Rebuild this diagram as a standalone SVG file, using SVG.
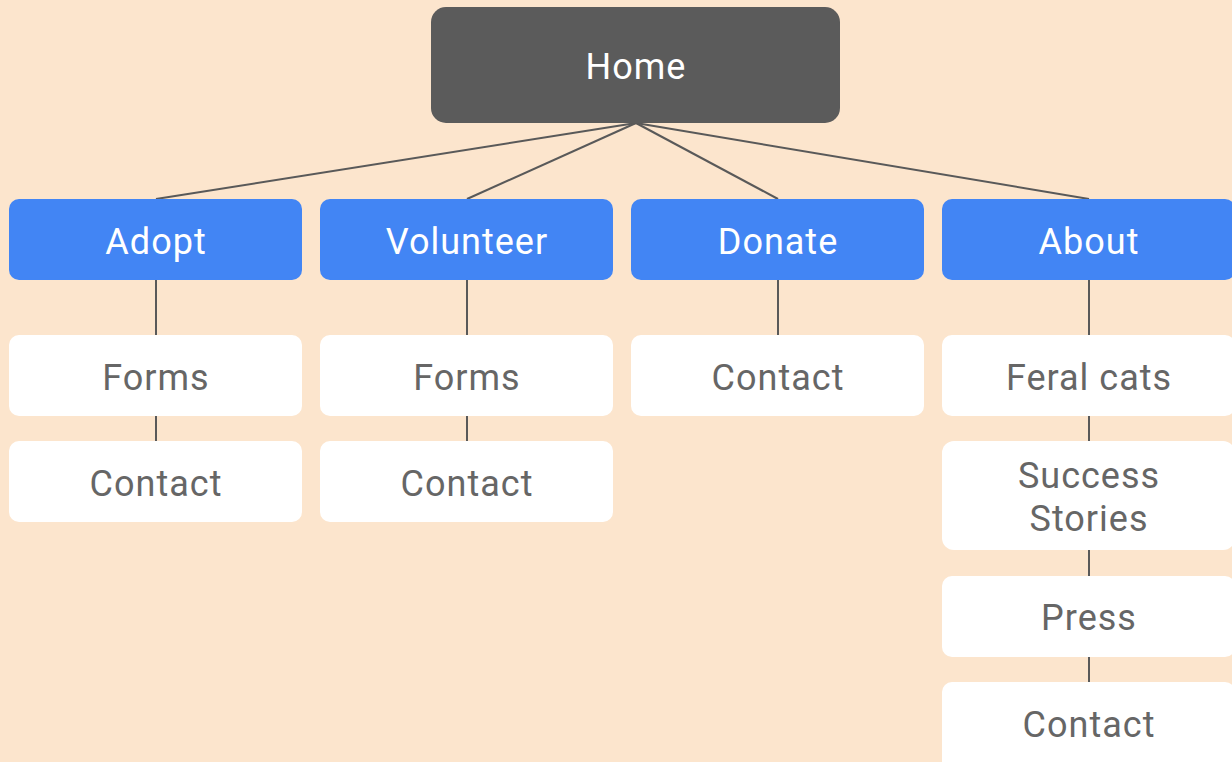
<svg xmlns="http://www.w3.org/2000/svg" width="1232" height="762" viewBox="0 0 1232 762">
<style>
.bg{fill:#fce5cd}
.home{fill:#5b5b5b}
.cat{fill:#4285f4}
.page{fill:#ffffff}
text{font-family:Roboto,"Open Sans","Liberation Sans",sans-serif;font-size:36px;text-anchor:middle;letter-spacing:1px}
.lt{fill:#ffffff}
.dt{fill:#666666}
.edge{stroke:#595959;stroke-width:2;fill:none}
</style>
<rect class="bg" x="0" y="0" width="1232" height="762"/>
<g id="connectors">
<line class="edge" x1="636" y1="123" x2="156" y2="199"/>
<line class="edge" x1="636" y1="123" x2="467" y2="199"/>
<line class="edge" x1="636" y1="123" x2="778" y2="199"/>
<line class="edge" x1="636" y1="123" x2="1089" y2="199"/>
<line class="edge" x1="156" y1="280" x2="156" y2="335"/>
<line class="edge" x1="156" y1="416" x2="156" y2="441"/>
<line class="edge" x1="467" y1="280" x2="467" y2="335"/>
<line class="edge" x1="467" y1="416" x2="467" y2="441"/>
<line class="edge" x1="778" y1="280" x2="778" y2="335"/>
<line class="edge" x1="1089" y1="280" x2="1089" y2="335"/>
<line class="edge" x1="1089" y1="416" x2="1089" y2="441"/>
<line class="edge" x1="1089" y1="550" x2="1089" y2="576"/>
<line class="edge" x1="1089" y1="657" x2="1089" y2="682"/>
</g>
<g id="home"><rect class="home" x="431" y="7" width="409" height="116" rx="15"/><text class="lt" x="636" y="79">Home</text></g>
<g id="adopt"><rect class="cat" x="9" y="199" width="293" height="81" rx="10"/><text class="lt" x="156" y="254">Adopt</text></g>
<g id="volunteer"><rect class="cat" x="320" y="199" width="293" height="81" rx="10"/><text class="lt" x="467" y="254">Volunteer</text></g>
<g id="donate"><rect class="cat" x="631" y="199" width="293" height="81" rx="10"/><text class="lt" x="778" y="254">Donate</text></g>
<g id="about"><rect class="cat" x="942" y="199" width="293" height="81" rx="10"/><text class="lt" x="1089" y="254">About</text></g>
<g id="adopt-forms"><rect class="page" x="9" y="335" width="293" height="81" rx="10"/><text class="dt" x="156" y="390">Forms</text></g>
<g id="adopt-contact"><rect class="page" x="9" y="441" width="293" height="81" rx="10"/><text class="dt" x="156" y="496">Contact</text></g>
<g id="volunteer-forms"><rect class="page" x="320" y="335" width="293" height="81" rx="10"/><text class="dt" x="467" y="390">Forms</text></g>
<g id="volunteer-contact"><rect class="page" x="320" y="441" width="293" height="81" rx="10"/><text class="dt" x="467" y="496">Contact</text></g>
<g id="donate-contact"><rect class="page" x="631" y="335" width="293" height="81" rx="10"/><text class="dt" x="778" y="390">Contact</text></g>
<g id="about-feral"><rect class="page" x="942" y="335" width="293" height="81" rx="10"/><text class="dt" x="1089" y="390">Feral cats</text></g>
<g id="about-success"><rect class="page" x="942" y="441" width="293" height="109" rx="12"/><text class="dt" x="1089" y="488">Success</text><text class="dt" x="1089" y="531">Stories</text></g>
<g id="about-press"><rect class="page" x="942" y="576" width="293" height="81" rx="10"/><text class="dt" x="1089" y="630">Press</text></g>
<g id="about-contact"><rect class="page" x="942" y="682" width="293" height="90" rx="10"/><text class="dt" x="1089" y="737">Contact</text></g>
</svg>
